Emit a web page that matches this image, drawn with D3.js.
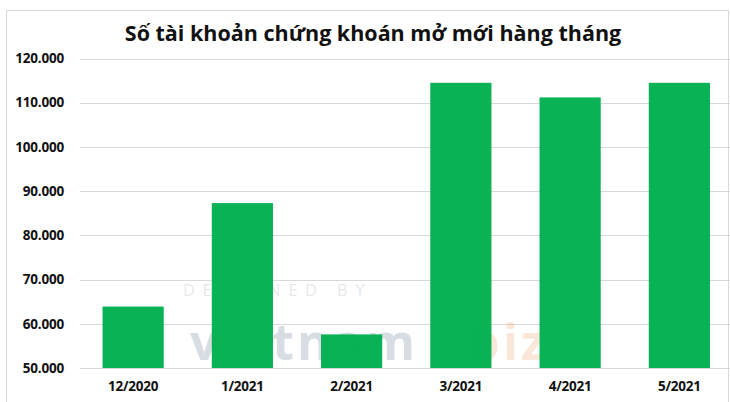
<!DOCTYPE html>
<html>
<head>
<meta charset="utf-8">
<script src="https://cdn.jsdelivr.net/npm/d3@7"></script>
<style>
  html, body { margin: 0; padding: 0; background: #fff; }
  svg { display: block; }
</style>
</head>
<body>
<svg id="chart" width="730" height="402"></svg>
<script>
const title = "Số tài khoản chứng khoán mở mới hàng tháng";
const categories = ["12/2020", "1/2021", "2/2021", "3/2021", "4/2021", "5/2021"];
const values = [63900, 87300, 57600, 114500, 111200, 114500];
const yTicks = [50000, 60000, 70000, 80000, 90000, 100000, 110000, 120000];

const svg = d3.select("#chart");
const font = "'Open Sans', 'Noto Sans', sans-serif";

// frame
svg.append("rect").attr("x", 6.5).attr("y", 10.5).attr("width", 722).attr("height", 400)
  .attr("fill", "#fff").attr("stroke", "#d9d9d9").attr("stroke-width", 1);

const x = d3.scaleBand().domain(categories).range([78.5, 734]).paddingInner(0.44).paddingOuter(0.22);
const y = d3.scaleLinear().domain([50000, 120000]).range([368, 58.5]);

const fmt = d => d3.format(",")(d).replace(/,/g, ".");

// gridlines
svg.append("g").selectAll("line").data(yTicks).join("line")
  .attr("x1", 80).attr("x2", 730)
  .attr("y1", d => Math.round(y(d)) + 0.5).attr("y2", d => Math.round(y(d)) + 0.5)
  .attr("stroke", "#d9d9d9").attr("stroke-width", 1);

// y labels
svg.append("g").selectAll("text").data(yTicks).join("text")
  .attr("x", 64).attr("y", d => y(d)).attr("dy", "0.35em")
  .attr("text-anchor", "end")
  .attr("font-family", font).attr("font-weight", "bold").attr("font-size", 13.5)
  .attr("letter-spacing", -0.2)
  .attr("fill", "#111")
  .text(fmt);

// watermark (faint)
const wm = svg.append("g").attr("opacity", 0.2).attr("pointer-events", "none");
wm.append("text").attr("x", 183).attr("y", 296)
  .attr("font-family", font).attr("font-size", 16).attr("letter-spacing", 8)
  .attr("fill", "#8a8f99").text("DESIGNED BY");
wm.append("text").attr("x", 190).attr("y", 360)
  .attr("font-family", font).attr("font-weight", "bold").attr("font-size", 50)
  .attr("letter-spacing", 3).attr("fill", "#3f5878").text("vietnam");
wm.append("text").attr("x", 468).attr("y", 360)
  .attr("font-family", font).attr("font-weight", "bold").attr("font-size", 50)
  .attr("letter-spacing", 3).attr("fill", "#f08a4b").text("biz");

// bars
svg.append("g").selectAll("rect").data(values).join("rect")
  .attr("x", (d, i) => x(categories[i]))
  .attr("width", x.bandwidth())
  .attr("y", d => y(d))
  .attr("height", d => y(50000) - y(d))
  .attr("fill", "#00b050")
  .attr("fill-opacity", 0.97);

// x labels
svg.append("g").selectAll("text").data(categories).join("text")
  .attr("x", d => x(d) + x.bandwidth() / 2).attr("y", 391)
  .attr("text-anchor", "middle")
  .attr("font-family", font).attr("font-weight", "bold").attr("font-size", 13.5)
  .attr("letter-spacing", -0.2)
  .attr("fill", "#111")
  .text(d => d);

// title
svg.append("text").attr("x", 373).attr("y", 41).attr("text-anchor", "middle")
  .attr("font-family", font).attr("font-weight", "bold").attr("font-size", 21.5)
  .attr("fill", "#111").text(title);
</script>
</body>
</html>
